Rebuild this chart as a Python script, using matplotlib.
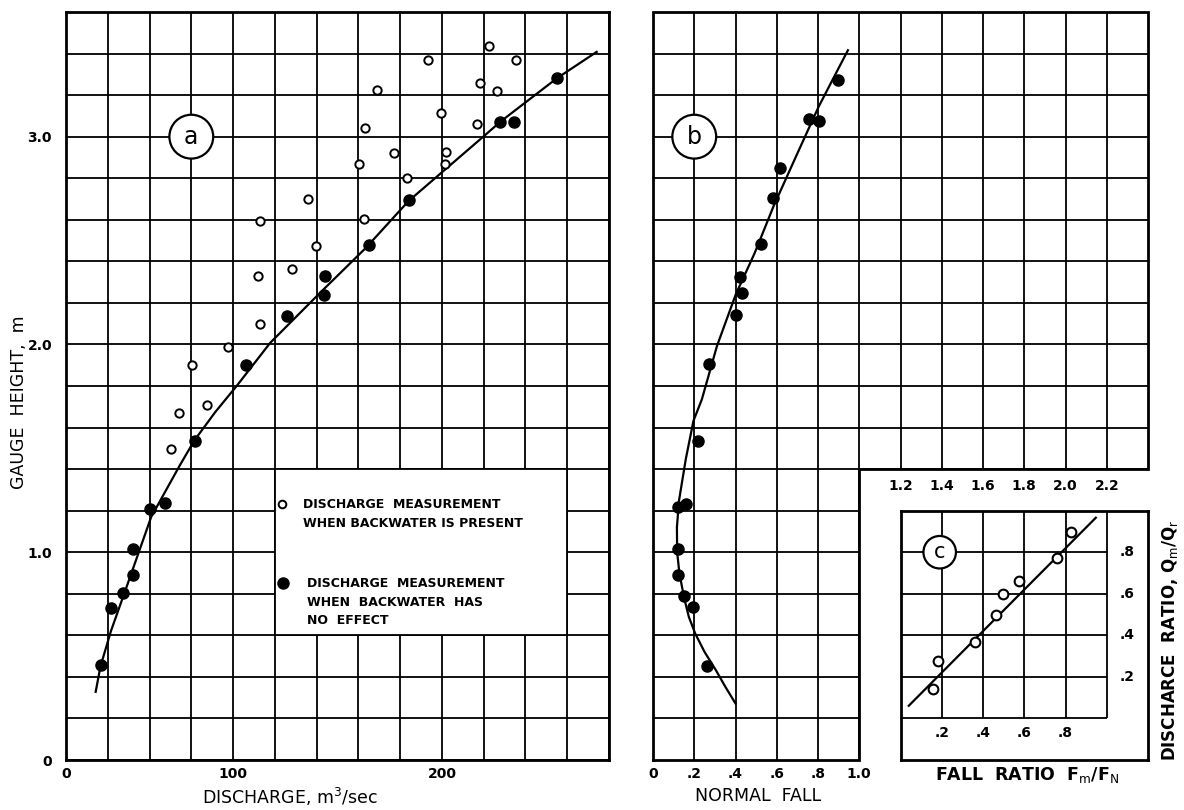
import numpy as np
import matplotlib.pyplot as plt
from matplotlib.patches import Rectangle

plt.rcParams['font.family'] = ['DejaVu Sans']

# ---- panel a : gauge height against discharge ----
backwater_q = [222.4, 193.3, 235.7, 218.4, 169.0, 226.2, 199.7, 216.9, 163.0, 201.9,
               177.0, 160.4, 201.4, 183.4, 135.7, 112.7, 162.8, 139.7, 128.2, 112.0,
               112.7, 97.7, 80.5, 87.5, 74.2, 70.4]
backwater_h = [3.437, 3.368, 3.368, 3.256, 3.227, 3.221, 3.115, 3.059, 3.042, 2.928,
               2.920, 2.867, 2.867, 2.800, 2.699, 2.595, 2.606, 2.472, 2.363, 2.328,
               2.099, 1.989, 1.901, 1.709, 1.672, 1.499]

free_q = [254.9, 228.0, 234.4, 184.0, 165.3, 144.0, 143.4, 126.0, 106.3, 81.6,
          67.3, 60.3, 52.0, 52.0, 47.4, 41.5, 36.9]
free_h = [3.280, 3.072, 3.069, 2.696, 2.477, 2.331, 2.237, 2.139, 1.901, 1.536,
          1.235, 1.208, 1.016, 0.888, 0.803, 0.733, 0.456]

rating_q = [34.2, 36.5, 41.5, 48.9, 60.8, 74.6, 81.6, 91.5, 101.7, 117.8,
            141.6, 163.5, 184.0, 219.8, 228.0, 254.9, 274.1]
rating_h = [0.328, 0.45, 0.62, 0.83, 1.17, 1.42, 1.54, 1.675, 1.80, 2.008,
            2.248, 2.464, 2.69, 3.0, 3.072, 3.28, 3.408]

# ---- panel b : gauge height against normal fall ----
fall_x = [0.898, 0.754, 0.805, 0.615, 0.580, 0.526, 0.423, 0.432, 0.401, 0.270,
          0.218, 0.119, 0.159, 0.122, 0.119, 0.148, 0.192, 0.263]
fall_h = [3.275, 3.085, 3.075, 2.851, 2.704, 2.483, 2.323, 2.248, 2.144, 1.904,
          1.536, 1.216, 1.232, 1.016, 0.888, 0.787, 0.736, 0.451]

fall_curve_x = [0.400, 0.351, 0.305, 0.250, 0.205, 0.174, 0.150, 0.128, 0.117, 0.116,
                0.126, 0.159, 0.196, 0.237, 0.310, 0.401, 0.493, 0.584, 0.693,
                0.803, 0.945]
fall_curve_h = [0.272, 0.352, 0.432, 0.520, 0.608, 0.688, 0.784, 0.900, 1.000, 1.120,
                1.248, 1.448, 1.632, 1.736, 1.992, 2.24, 2.44, 2.664, 2.904,
                3.144, 3.416]

# ---- panel c : discharge ratio against fall ratio ----
ratio_f = [0.157, 0.181, 0.361, 0.462, 0.498, 0.575, 0.759, 0.827]
ratio_q = [0.144, 0.276, 0.369, 0.498, 0.597, 0.663, 0.774, 0.899]
ratio_line_f = [0.04, 0.947]
ratio_line_q = [0.061, 0.966]

a_ticks = {20: '0', 100: '100', 200: '200'}
h_ticks = {0.0: '0', 1.0: '1.0', 2.0: '2.0', 3.0: '3.0'}
b_ticks = ['0', '.2', '.4', '.6', '.8', '1.0']
b_upper_ticks = ['1.2', '1.4', '1.6', '1.8', '2.0', '2.2']
c_ticks = ['.2', '.4', '.6', '.8']

legend_open = ['DISCHARGE  MEASUREMENT', 'WHEN BACKWATER IS PRESENT']
legend_filled = ['DISCHARGE  MEASUREMENT', 'WHEN  BACKWATER  HAS', 'NO  EFFECT']

W, H = 1184, 810
fig = plt.figure(figsize=(W / 100, H / 100), dpi=100)

GRID_LW = 1.3
FRAME_LW = 2.0
TICK_FONT = dict(fontsize=10, fontweight='bold')
circ = dict(boxstyle='circle,pad=0.42', fc='white', ec='black', lw=1.6)

# ---------------- panel a ----------------
ax = fig.add_axes([66 / W, 50 / H, 543 / W, 748 / H])
ax.set_xlim(20, 280)
ax.set_ylim(0, 3.6)
xt = np.arange(20, 281, 20)
yt = np.round(np.arange(0, 3.61, 0.2), 1)
ax.set_xticks(xt, [a_ticks.get(int(v), '') for v in xt], **TICK_FONT)
ax.set_yticks(yt, [h_ticks.get(float(v), '') for v in yt], **TICK_FONT)
ax.tick_params(length=0, pad=5)
ax.tick_params(axis='y', pad=10)
ax.grid(True, color='black', lw=GRID_LW)
ax.set_axisbelow(True)
for s in ax.spines.values():
    s.set_linewidth(FRAME_LW)

# legend box
ax.add_patch(Rectangle((120, 0.6), 140, 0.8, fc='white', ec='black',
                       lw=GRID_LW, zorder=2))
ax.plot([123.3], [1.232], 'o', mfc='white', mec='black', ms=5.5, mew=1.4, zorder=3)
for line, y in zip(legend_open, [1.232, 1.136]):
    ax.text(133.4, y, line, fontsize=9, fontweight='bold', va='center', ha='left', zorder=3)
ax.plot([123.9], [0.851], 'o', color='black', ms=8, zorder=3)
for line, y in zip(legend_filled, [0.848, 0.760, 0.672]):
    ax.text(135.3, y, line, fontsize=9, fontweight='bold', va='center', ha='left', zorder=3)

ax.plot(rating_q, rating_h, color='black', lw=1.6, zorder=3)
ax.plot(backwater_q, backwater_h, 'o', mfc='white', mec='black', ms=6, mew=1.4, zorder=4)
ax.plot(free_q, free_h, 'o', color='black', ms=8, zorder=4)
ax.text(80, 3.0, 'a', fontsize=17, ha='center', va='center', bbox=circ, zorder=5)

# ---------------- panel b ----------------
bx0, bw = 653 / W, 495 / W
by0, bh = 50 / H, 748 / H
bx = fig.add_axes([bx0, by0, bw, bh])
bx.set_xlim(0, 2.4)
bx.set_ylim(0, 3.6)
for s in bx.spines.values():
    s.set_visible(False)
bx.set_xticks(np.round(np.arange(0, 1.01, 0.2), 1), b_ticks, **TICK_FONT)
bx.set_yticks([])
bx.tick_params(length=0, pad=5)

gx = np.round(np.arange(0.2, 2.21, 0.2), 1)
gy = np.round(np.arange(0.2, 3.41, 0.2), 1)
bx.vlines(gx[gx <= 1.0], 0, 3.6, color='black', lw=GRID_LW, zorder=1)
bx.vlines(gx[gx > 1.0], 1.4, 3.6, color='black', lw=GRID_LW, zorder=1)
bx.hlines(gy[gy < 1.4], 0, 1.0, color='black', lw=GRID_LW, zorder=1)
bx.hlines(gy[gy >= 1.4], 0, 2.4, color='black', lw=GRID_LW, zorder=1)
bx.plot([0, 0, 2.4, 2.4, 1.0, 1.0, 0], [0, 3.6, 3.6, 1.4, 1.4, 0, 0],
        color='black', lw=FRAME_LW, zorder=2, clip_on=False, solid_joinstyle='miter')
for v, lab in zip(gx[gx > 1.0], b_upper_ticks):
    bx.text(v, 1.32, lab, ha='center', va='center', **TICK_FONT)

bx.plot(fall_curve_x, fall_curve_h, color='black', lw=1.6, zorder=3)
bx.plot(fall_x, fall_h, 'o', color='black', ms=8, zorder=4)
bx.text(0.2, 3.0, 'b', fontsize=17, ha='center', va='center', bbox=circ, zorder=5)

# ---------------- panel c ----------------
cx = fig.add_axes([bx0 + bw * 0.5, by0, bw * 0.5, bh / 3])
cx.set_xlim(0, 1.2)
cx.set_ylim(-0.2, 1.0)
cx.set_xticks([])
cx.set_yticks([])
for s in cx.spines.values():
    s.set_linewidth(FRAME_LW)
cg = np.round(np.arange(0.2, 1.01, 0.2), 1)
cx.vlines(cg, 0, 1.0, color='black', lw=GRID_LW, zorder=1)
cx.hlines(np.round(np.arange(0.0, 0.81, 0.2), 1), 0, 1.0, color='black', lw=GRID_LW, zorder=1)
for v, lab in zip(cg[:4], c_ticks):
    cx.text(v, -0.068, lab, ha='center', va='center', **TICK_FONT)
    cx.text(1.1, v, lab, ha='center', va='center', **TICK_FONT)

cx.plot(ratio_line_f, ratio_line_q, color='black', lw=1.6, zorder=3)
cx.plot(ratio_f, ratio_q, 'o', mfc='white', mec='black', ms=7, mew=1.5, zorder=4)
cx.text(0.19, 0.8, 'c', fontsize=15, ha='center', va='center',
        bbox=dict(boxstyle='circle,pad=0.3', fc='white', ec='black', lw=1.6), zorder=5)

# ---------------- axis titles ----------------
fig.text(290 / W, 1 - 797 / H, 'DISCHARGE, m$^3$/sec', ha='center', va='center',
         fontsize=12.5)
fig.text(19 / W, 1 - 402 / H, 'GAUGE  HEIGHT,  m', rotation=90, ha='center',
         va='center', fontsize=12.5)
fig.text(758 / W, 1 - 796 / H, 'NORMAL  FALL', ha='center', va='center',
         fontsize=12.5)
fig.text(1027 / W, 1 - 775 / H, r'FALL  RATIO  F$_\mathrm{m}$/F$_\mathrm{N}$',
         ha='center', va='center', fontsize=12.5, fontweight='bold')
fig.text(1170 / W, 1 - 640 / H, r'DISCHARCE  RATIO, Q$_\mathrm{m}$/Q$_\mathrm{r}$',
         rotation=90, ha='center', va='center', fontsize=12, fontweight='bold')

fig.savefig('out.png', dpi=100)
